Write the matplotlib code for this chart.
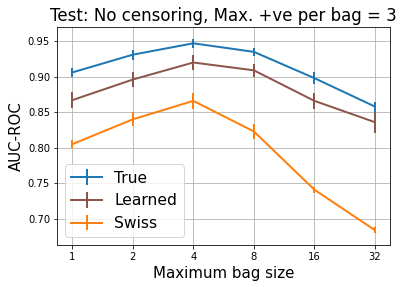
import numpy as np
import matplotlib
matplotlib.use("Agg")
import matplotlib.pyplot as plt

bag_sizes = [1, 2, 4, 8, 16, 32]

true_auc = [0.906, 0.931, 0.947, 0.935, 0.898, 0.858]
true_err = [0.006, 0.007, 0.006, 0.006, 0.008, 0.007]

learned_auc = [0.867, 0.896, 0.920, 0.909, 0.866, 0.836]
learned_err = [0.011, 0.011, 0.011, 0.009, 0.011, 0.015]

swiss_auc = [0.805, 0.840, 0.866, 0.823, 0.741, 0.684]
swiss_err = [0.006, 0.010, 0.011, 0.010, 0.004, 0.004]

fig, ax = plt.subplots(figsize=(408 / 72, 287 / 72), dpi=72)

ax.errorbar(bag_sizes, true_auc, yerr=true_err, color="#1f77b4", lw=2, elinewidth=2, label="True")
ax.errorbar(bag_sizes, learned_auc, yerr=learned_err, color="#8c564b", lw=2, elinewidth=2, label="Learned")
ax.errorbar(bag_sizes, swiss_auc, yerr=swiss_err, color="#ff7f0e", lw=2, elinewidth=2, label="Swiss")

ax.set_xscale("log", base=2)
ax.set_xticks(bag_sizes)
ax.set_xticklabels([str(b) for b in bag_sizes])
ax.minorticks_off()
ax.set_ylim(0.663, 0.970)
ax.set_yticks([0.70, 0.75, 0.80, 0.85, 0.90, 0.95])
ax.tick_params(labelsize=10)
ax.grid(True)

ax.set_title("Test: No censoring, Max. +ve per bag = 3", fontsize=16.6)
ax.set_xlabel("Maximum bag size", fontsize=15)
ax.set_ylabel("AUC-ROC", fontsize=15)
ax.legend(loc="lower left", fontsize=15.5)

fig.subplots_adjust(left=0.14, right=0.956, top=0.906, bottom=0.146)
fig.savefig("out.png", dpi=72)
